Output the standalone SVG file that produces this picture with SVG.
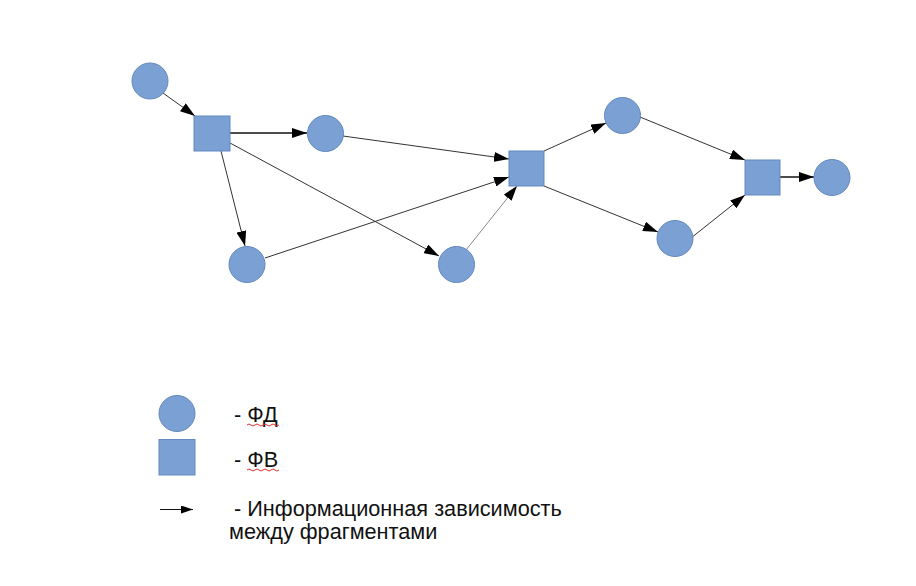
<svg xmlns="http://www.w3.org/2000/svg" width="916" height="586" viewBox="0 0 916 586">
<defs>
<style>
.n{fill:#7ba0d3;stroke:#6389c0;stroke-width:1}
.e{stroke:#333;stroke-width:1;fill:none;marker-end:url(#ah)}
.eb{stroke:#111;stroke-width:1.5;fill:none;marker-end:url(#ah)}
.el{stroke:#888;stroke-width:1;fill:none;marker-end:url(#ah)}
.t{font-family:"Liberation Sans",Arial,sans-serif;font-size:21.7px;fill:#111}
.sq{fill:none;stroke:#e03030;stroke-width:1}
</style>
<marker id="ah" viewBox="0 0 15 10" refX="15" refY="5" markerWidth="15" markerHeight="10" markerUnits="userSpaceOnUse" orient="auto"><path d="M0,0 L15,5 L0,10 Z" fill="#000"/></marker>
<marker id="ahs" viewBox="0 0 12 8" refX="12" refY="4" markerWidth="12" markerHeight="8" markerUnits="userSpaceOnUse" orient="auto"><path d="M0,0 L12,4 L0,8 Z" fill="#000"/></marker>
</defs>
<rect width="916" height="586" fill="#fff"/>
<g id="connectors">
<line class="e" x1="163" y1="93" x2="195" y2="116"/>
<line class="eb" x1="230" y1="133" x2="307" y2="133"/>
<line class="e" x1="221" y1="151" x2="245" y2="246"/>
<line class="e" x1="230" y1="143" x2="439" y2="256"/>
<line class="e" x1="343" y1="136" x2="509" y2="159"/>
<line class="e" x1="265" y1="258" x2="509" y2="177"/>
<line class="el" x1="466" y1="250" x2="517" y2="186"/>
<line class="e" x1="544" y1="151" x2="606" y2="123"/>
<line class="e" x1="544" y1="186" x2="658" y2="232"/>
<line class="e" x1="640" y1="117" x2="745" y2="160"/>
<line class="e" x1="691" y1="238" x2="745" y2="195"/>
<line class="eb" x1="780" y1="177" x2="814" y2="177"/>
</g>
<g id="n1"><circle class="n" cx="150" cy="81" r="18"/></g>
<g id="n2"><rect class="n" x="194" y="116" width="36" height="35"/></g>
<g id="n3"><circle class="n" cx="325.5" cy="133.5" r="18"/></g>
<g id="n4"><circle class="n" cx="247" cy="264.5" r="18"/></g>
<g id="n5"><circle class="n" cx="456.5" cy="264.5" r="18"/></g>
<g id="n6"><rect class="n" x="509" y="151" width="35" height="35"/></g>
<g id="n7"><circle class="n" cx="622.5" cy="115.5" r="18"/></g>
<g id="n8"><circle class="n" cx="675" cy="238.5" r="18"/></g>
<g id="n9"><rect class="n" x="745" y="160" width="35" height="35"/></g>
<g id="n10"><circle class="n" cx="832" cy="177.5" r="18"/></g>
<g id="legend">
<circle class="n" cx="177" cy="413.5" r="18"/>
<rect class="n" x="159" y="439.5" width="36" height="35.5"/>
<line x1="160" y1="509.5" x2="193" y2="509.5" stroke="#111" stroke-width="1.2" marker-end="url(#ahs)"/>
<text class="t" x="234" y="422">- ФД</text>
<path class="sq" d="M247,425 q2,-2 4,0 t4,0 t4,0 t4,0 t4,0 t4,0 t4,0 t4,0"/>
<text class="t" x="234" y="467">- ФВ</text>
<path class="sq" d="M247,470 q2,-2 4,0 t4,0 t4,0 t4,0 t4,0 t4,0 t4,0 t4,0"/>
<text class="t" x="234" y="516"> - Информационная зависимость</text>
<text class="t" x="229" y="539">между фрагментами</text>
</g>
</svg>
